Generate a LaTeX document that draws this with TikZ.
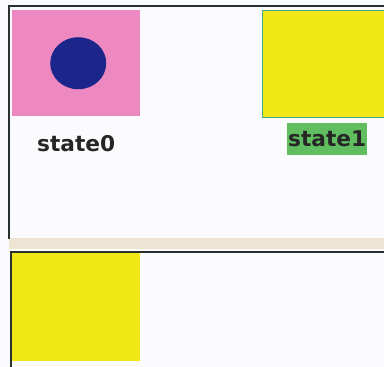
\documentclass[tikz,border=0pt]{standalone}
\usepackage{fontspec}
\setmainfont{DejaVu Sans}
\usetikzlibrary{positioning, shapes.geometric}
\usepackage{xcolor}
\definecolor{pinkBox}{RGB}{238,136,192}
\definecolor{navyDot}{RGB}{28,38,138}
\definecolor{yellowBox}{RGB}{240,232,22}
\definecolor{greenTag}{RGB}{96,190,96}
\definecolor{tealEdge}{RGB}{70,170,140}
\definecolor{paneBg}{RGB}{251,251,253}
\definecolor{paneEdge}{RGB}{40,48,48}
\definecolor{beigeBand}{RGB}{238,228,212}

\begin{document}
\begin{tikzpicture}[
    x=0.03cm, y=-0.03cm,
    box/.style={rectangle, anchor=north west, inner sep=0pt, minimum width=3.84cm, minimum height=3.18cm},
    tag/.style={rectangle, inner sep=0pt, font=\bfseries\fontsize{18.5}{18.5}\selectfont, text=black!85},
    edge/.style={draw=paneEdge, line width=0.07cm}
]
\clip (0,0) rectangle (384,367);
\fill[paneBg] (0,0) rectangle (384,367);

% top pane
\fill[beigeBand] (9,238) rectangle (384,249);
\draw[edge] (9,239) -- (9,6) -- (390,6);
\node[box, fill=pinkBox] (pane0) at (12,10) {};
\node[ellipse, fill=navyDot, minimum width=1.68cm, minimum height=1.56cm, inner sep=0pt, xshift=0.06cm] (dot) at (pane0.center) {};
\node[tag, below=0.55cm of pane0] (state0) {state0};
\node[box, fill=yellowBox, draw=tealEdge, line width=0.04cm, minimum width=4.2cm, minimum height=3.2cm] (pane1) at (262,10) {};
\node[tag, fill=greenTag, minimum width=2.4cm, minimum height=0.96cm, anchor=north west] (state1) at (287,123) {state1};

% bottom pane
\draw[edge] (11,370) -- (11,252) -- (390,252);
\node[box, fill=yellowBox, minimum height=3.24cm] (pane2) at (12,253) {};
\end{tikzpicture}
\end{document}
